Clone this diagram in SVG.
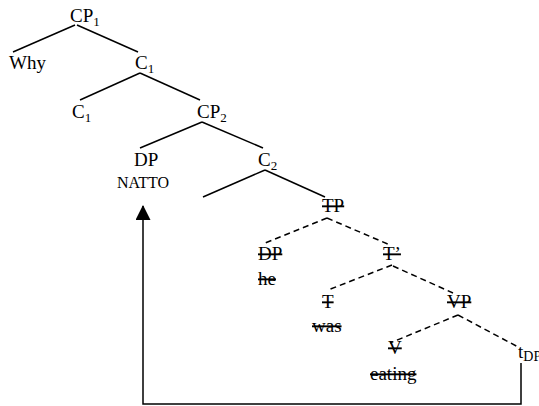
<svg xmlns="http://www.w3.org/2000/svg" width="539" height="406" viewBox="0 0 539 406">
<style>
text{font-family:"Liberation Serif","Times New Roman",serif;font-size:19px;fill:#000}
.sub{font-size:13px}
.sub2{font-size:14px}
.small{font-size:16px}
.del{text-decoration:line-through}
.e{stroke:#000;stroke-width:1.5;fill:none}
.d{stroke:#000;stroke-width:1.5;fill:none;stroke-dasharray:6 4}
</style>
<defs>
<marker id="ah" markerUnits="userSpaceOnUse" markerWidth="16" markerHeight="15" refX="14" refY="7.5" orient="auto">
<path d="M0,0 L15,7.5 L0,15 z" fill="#000"/>
</marker>
</defs>
<g id="connectors">
<line class="e" x1="75" y1="25" x2="13" y2="52"/>
<line class="e" x1="77" y1="25" x2="138" y2="52"/>
<line class="e" x1="140" y1="73" x2="80" y2="100"/>
<line class="e" x1="140" y1="73" x2="200" y2="100"/>
<line class="e" x1="202" y1="122" x2="140" y2="148"/>
<line class="e" x1="202" y1="122" x2="263" y2="148"/>
<line class="e" x1="265" y1="170" x2="203" y2="197"/>
<line class="e" x1="265" y1="170" x2="325" y2="197"/>
<line class="d" x1="327" y1="218" x2="265" y2="243"/>
<line class="d" x1="327" y1="218" x2="390" y2="245"/>
<line class="d" x1="392" y1="265" x2="328" y2="290"/>
<line class="d" x1="393" y1="266" x2="453" y2="293"/>
<line class="d" x1="458" y1="315" x2="390" y2="343"/>
<line class="d" x1="458" y1="315" x2="520" y2="348"/>
<path class="e" d="M521,363 V404 H143 V206" marker-end="url(#ah)"/>
</g>
<g id="CP1"><text x="70" y="22">CP<tspan class="sub" dy="4">1</tspan></text></g>
<g id="Why"><text x="9" y="69">Why</text></g>
<g id="C1a"><text x="135" y="69">C<tspan class="sub" dy="4">1</tspan></text></g>
<g id="C1b"><text x="72" y="118">C<tspan class="sub" dy="4">1</tspan></text></g>
<g id="CP2"><text x="197" y="118">CP<tspan class="sub" dy="4">2</tspan></text></g>
<g id="DP"><text x="134" y="166">DP</text><text class="small" x="117" y="188">NATTO</text></g>
<g id="C2"><text x="258" y="166">C<tspan class="sub" dy="4">2</tspan></text></g>
<g id="TP"><text class="del" x="322" y="212">TP</text></g>
<g id="DPhe"><text class="del" x="258" y="260">DP</text><text class="del" x="258" y="285">he</text></g>
<g id="Tbar"><text class="del" x="383" y="260">T’</text></g>
<g id="T"><text class="del" x="322" y="308">T</text><text class="del" x="312" y="332">was</text></g>
<g id="VP"><text class="del" x="447" y="308">VP</text></g>
<g id="V"><text class="del" x="388" y="354">V</text><text class="del" x="370" y="380">eating</text></g>
<g id="tDP"><text x="518" y="358">t<tspan class="sub2" dy="3">DP</tspan></text></g>
</svg>
